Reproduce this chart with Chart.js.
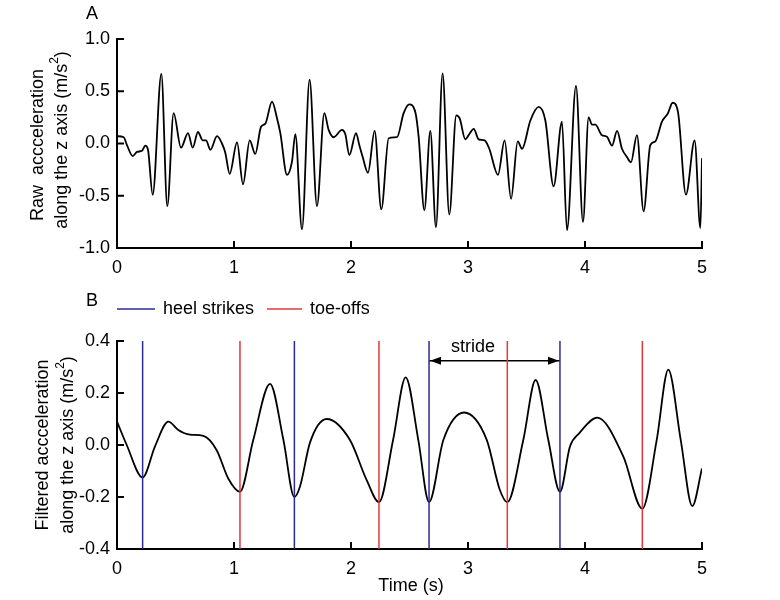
<!DOCTYPE html>
<html>
<head>
<meta charset="utf-8">
<script src="https://cdn.jsdelivr.net/npm/chart.js@4"></script>
<style>
body { margin: 0; background: #fff; }
#wrap { position: relative; width: 780px; height: 600px; }
#rawBox { position: absolute; left: 0; top: 0; width: 780px; height: 290px; }
#filtBox { position: absolute; left: 0; top: 290px; width: 780px; height: 310px; }
</style>
</head>
<body>
<div id="wrap">
    <div id="rawBox"><canvas id="rawChart"></canvas></div>
    <div id="filtBox"><canvas id="filtChart"></canvas></div>
</div>
<script>
// panel A: raw signal (time in s, acceleration in m/s^2)
const rawTime = [0.000, 0.057, 0.085, 0.134, 0.171, 0.214, 0.242, 0.265, 0.305, 0.379, 0.430, 0.484, 0.547, 0.607, 0.647, 0.692, 0.733, 0.761, 0.798, 0.855, 0.897, 0.926, 0.963, 1.026, 1.077, 1.134, 1.182, 1.231, 1.268, 1.325, 1.368, 1.396, 1.453, 1.496, 1.524, 1.581, 1.646, 1.709, 1.772, 1.809, 1.852, 1.923, 1.951, 1.986, 2.043, 2.071, 2.100, 2.145, 2.202, 2.259, 2.322, 2.393, 2.450, 2.498, 2.550, 2.578, 2.627, 2.678, 2.726, 2.783, 2.840, 2.900, 2.929, 2.977, 3.011, 3.049, 3.091, 3.142, 3.182, 3.256, 3.313, 3.368, 3.425, 3.462, 3.533, 3.604, 3.661, 3.732, 3.803, 3.846, 3.923, 3.983, 4.031, 4.060, 4.088, 4.145, 4.188, 4.231, 4.274, 4.316, 4.359, 4.393, 4.444, 4.501, 4.558, 4.600, 4.658, 4.709, 4.749, 4.795, 4.863, 4.937, 4.986, 5.000];
const rawAccel = [0.07, 0.06, -0.015, -0.12, -0.08, -0.07, -0.02, -0.06, -0.49, 0.665, -0.60, 0.29, -0.04, 0.10, -0.04, 0.11, 0.03, 0.03, -0.06, 0.07, 0.0, -0.09, -0.29, 0.01, -0.39, 0.03, -0.10, 0.16, 0.19, 0.40, 0.24, 0.10, -0.30, -0.17, 0.09, -0.82, 0.61, -0.60, 0.29, 0.13, 0.06, 0.13, 0.09, -0.11, 0.10, -0.015, -0.13, -0.28, 0.12, -0.63, 0.05, 0.06, 0.29, 0.375, 0.30, 0.065, -0.64, 0.12, -0.80, 0.67, -0.68, 0.27, 0.24, 0.04, 0.09, 0.14, 0.04, 0.03, -0.05, -0.30, 0.03, -0.53, 0.02, -0.05, 0.22, 0.35, 0.22, -0.41, 0.21, -0.83, 0.55, -0.75, 0.25, 0.18, 0.18, 0.08, 0.065, -0.02, 0.12, -0.05, -0.13, -0.18, 0.08, -0.65, -0.015, 0.02, 0.21, 0.29, 0.39, 0.30, -0.49, 0.03, -0.81, -0.14];

// panel B: filtered signal
const filtTime = [0.000, 0.083, 0.219, 0.325, 0.439, 0.524, 0.624, 0.738, 0.852, 0.952, 1.051, 1.165, 1.308, 1.422, 1.516, 1.564, 1.650, 1.792, 1.990, 2.134, 2.239, 2.360, 2.467, 2.575, 2.667, 2.790, 2.966, 3.160, 3.270, 3.336, 3.473, 3.578, 3.686, 3.786, 3.872, 3.950, 4.105, 4.328, 4.490, 4.613, 4.712, 4.818, 4.917, 5.000];
const filtAccel = [0.09, 0.0, -0.125, -0.005, 0.09, 0.058, 0.04, 0.035, -0.02, -0.13, -0.18, 0.02, 0.235, 0.02, -0.20, -0.16, 0.01, 0.10, 0.02, -0.135, -0.22, 0.02, 0.26, 0.02, -0.22, 0.02, 0.125, 0.02, -0.17, -0.22, 0.02, 0.25, 0.02, -0.18, -0.005, 0.045, 0.105, -0.045, -0.245, 0.02, 0.29, 0.02, -0.235, -0.09];

const heelStrikes = [0.219, 1.516, 2.667, 3.786];
const toeOffs = [1.051, 2.239, 3.336, 4.49];
const strideFrom = 2.667;
const strideTo = 3.786;
const strideLevel = 0.324;

const navy = '#2b2b95';
const red = '#e0383c';
const fontFamily = '"Liberation Sans", Arial, sans-serif';

Chart.defaults.font.family = fontFamily;
Chart.defaults.font.size = 18;
Chart.defaults.color = '#000';

function toPoints(xs, ys) {
    return xs.map((x, i) => ({x: x, y: ys[i]}));
}

function drawRotated(ctx, parts, cx, cy) {
    ctx.save();
    ctx.translate(cx, cy);
    ctx.rotate(-Math.PI / 2);
    ctx.textBaseline = 'middle';
    ctx.textAlign = 'left';
    let total = 0;
    parts.forEach(p => {
        ctx.font = (p.sup ? '12px ' : '18px ') + fontFamily;
        total += ctx.measureText(p.text).width;
    });
    let x = -total / 2;
    parts.forEach(p => {
        ctx.font = (p.sup ? '12px ' : '18px ') + fontFamily;
        ctx.fillText(p.text, x, p.sup ? -7 : 0);
        x += ctx.measureText(p.text).width;
    });
    ctx.restore();
}

const inwardTicks = {
    id: 'inwardTicks',
    afterDraw(chart) {
        const {ctx, scales: {x, y}} = chart;
        ctx.save();
        ctx.strokeStyle = '#000';
        ctx.lineWidth = 2;
        ctx.beginPath();
        x.ticks.forEach(t => {
            const px = x.getPixelForValue(t.value);
            ctx.moveTo(px, x.top);
            ctx.lineTo(px, x.top - 7);
        });
        y.ticks.forEach(t => {
            const py = y.getPixelForValue(t.value);
            ctx.moveTo(y.right, py);
            ctx.lineTo(y.right + 7, py);
        });
        ctx.stroke();
        ctx.restore();
    }
};

const rawDecor = {
    id: 'rawDecor',
    afterDraw(chart) {
        const ctx = chart.ctx;
        ctx.save();
        ctx.fillStyle = '#000';
        ctx.font = '18px ' + fontFamily;
        ctx.textAlign = 'center';
        ctx.textBaseline = 'middle';
        ctx.fillText('A', 92, 14);
        drawRotated(ctx, [{text: 'Raw  accceleration'}], 38, 145);
        drawRotated(ctx, [{text: 'along the z axis (m/s'}, {text: '2', sup: true}, {text: ')'}], 62, 140);
        ctx.restore();
    }
};

const filtDecor = {
    id: 'filtDecor',
    afterDraw(chart) {
        const {ctx, scales: {x, y}} = chart;
        ctx.save();
        ctx.fillStyle = '#000';
        ctx.font = '18px ' + fontFamily;
        ctx.textAlign = 'center';
        ctx.textBaseline = 'middle';
        ctx.fillText('B', 92, 11);
        drawRotated(ctx, [{text: 'Filtered accceleration'}], 43, 155);
        drawRotated(ctx, [{text: 'along the z axis (m/s'}, {text: '2', sup: true}, {text: ')'}], 68, 155);
        ctx.fillText('Time (s)', 411, 296);

        // legend
        ctx.lineWidth = 1.5;
        ctx.strokeStyle = navy;
        ctx.beginPath(); ctx.moveTo(117, 19); ctx.lineTo(155, 19); ctx.stroke();
        ctx.strokeStyle = red;
        ctx.beginPath(); ctx.moveTo(267, 19); ctx.lineTo(302, 19); ctx.stroke();
        ctx.textAlign = 'left';
        ctx.fillText('heel strikes', 163, 19);
        ctx.fillText('toe-offs', 310, 19);

        // stride arrow heads and label
        const ay = y.getPixelForValue(strideLevel);
        const x1 = x.getPixelForValue(strideFrom);
        const x2 = x.getPixelForValue(strideTo);
        ctx.beginPath();
        ctx.moveTo(x1 + 1, ay); ctx.lineTo(x1 + 12, ay - 4); ctx.lineTo(x1 + 12, ay + 4); ctx.closePath();
        ctx.moveTo(x2 - 1, ay); ctx.lineTo(x2 - 12, ay - 4); ctx.lineTo(x2 - 12, ay + 4); ctx.closePath();
        ctx.fill();
        ctx.textAlign = 'center';
        ctx.fillText('stride', 473, ay - 14);
        ctx.restore();
    }
};

function axisOptions(min, max, step, pad, digits) {
    return {
        type: 'linear',
        min: min,
        max: max,
        grid: {display: false, drawTicks: false, tickLength: 0},
        border: {display: true, color: '#000', width: 2},
        ticks: {
            stepSize: step,
            padding: pad,
            color: '#000',
            font: {size: 18},
            callback: value => value.toFixed(digits)
        }
    };
}

const rawX = axisOptions(0, 5, 1, 9, 0);
rawX.afterFit = scale => { scale.height = 42; };
const rawY = axisOptions(-1, 1, 0.5, 7, 1);
rawY.afterFit = scale => { scale.width = 117; };

new Chart(document.getElementById('rawChart'), {
    type: 'line',
    data: {
        datasets: [{
            label: 'Raw',
            data: toPoints(rawTime, rawAccel),
            borderColor: '#000',
            borderWidth: 1.8,
            pointRadius: 0,
            fill: false,
            cubicInterpolationMode: 'monotone'
        }]
    },
    options: {
        responsive: true,
        maintainAspectRatio: false,
        animation: false,
        layout: {padding: {left: 0, right: 78, top: 39, bottom: 0}},
        scales: {x: rawX, y: rawY},
        plugins: {legend: {display: false}, tooltip: {enabled: false}}
    },
    plugins: [inwardTicks, rawDecor]
});

const eventSets = [];
heelStrikes.forEach(t => eventSets.push({
    label: 'heel strikes',
    data: [{x: t, y: -0.4}, {x: t, y: 0.4}],
    borderColor: navy,
    borderWidth: 1.5,
    pointRadius: 0
}));
toeOffs.forEach(t => eventSets.push({
    label: 'toe-offs',
    data: [{x: t, y: -0.4}, {x: t, y: 0.4}],
    borderColor: red,
    borderWidth: 1.5,
    pointRadius: 0
}));

const filtX = axisOptions(0, 5, 1, 9, 0);
filtX.afterFit = scale => { scale.height = 51; };
const filtY = axisOptions(-0.4, 0.4, 0.2, 7, 1);
filtY.afterFit = scale => { scale.width = 117; };

new Chart(document.getElementById('filtChart'), {
    type: 'line',
    data: {
        datasets: eventSets.concat([
            {
                label: 'stride',
                data: [{x: strideFrom, y: strideLevel}, {x: strideTo, y: strideLevel}],
                borderColor: '#000',
                borderWidth: 1.5,
                pointRadius: 0
            },
            {
                label: 'Filtered',
                data: toPoints(filtTime, filtAccel),
                borderColor: '#000',
                borderWidth: 1.8,
                pointRadius: 0,
                fill: false,
                cubicInterpolationMode: 'monotone'
            }
        ])
    },
    options: {
        responsive: true,
        maintainAspectRatio: false,
        animation: false,
        layout: {padding: {left: 0, right: 78, top: 51, bottom: 0}},
        scales: {x: filtX, y: filtY},
        plugins: {legend: {display: false}, tooltip: {enabled: false}}
    },
    plugins: [inwardTicks, filtDecor]
});
</script>
</body>
</html>
